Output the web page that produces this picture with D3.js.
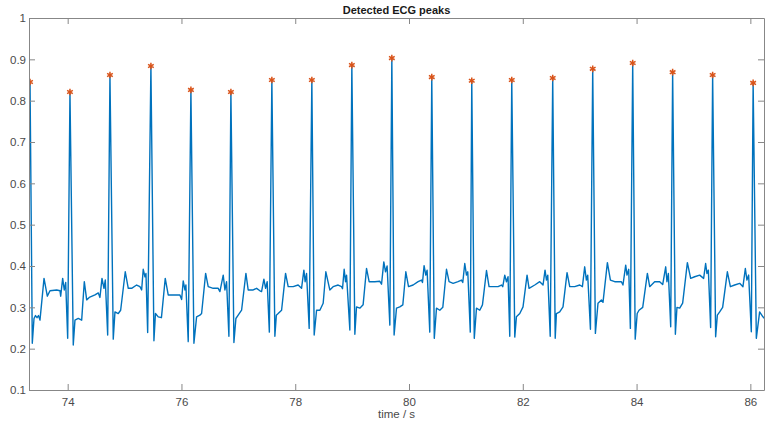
<!DOCTYPE html>
<html>
<head>
<meta charset="utf-8">
<script src="https://cdn.jsdelivr.net/npm/d3@7"></script>
<style>
  html, body { margin: 0; padding: 0; background: #fff; }
  svg { display: block; }
  .tick text { font-family: "Liberation Sans", Arial, Helvetica, sans-serif; }
</style>
</head>
<body>
<svg id="chart" width="765" height="425"></svg>
<script>
// ---------- data ----------
const titleText = "Detected ECG peaks";
const xLabelText = "time / s";
const xDomain = [73.32, 86.24];
const yDomain = [0.1, 1.0];
const xTicks = [74, 76, 78, 80, 82, 84, 86];
const yTicks = [0.1, 0.2, 0.3, 0.4, 0.5, 0.6, 0.7, 0.8, 0.9, 1.0];

// detected R-peaks
const peakTime = [73.338, 74.040, 74.743, 75.463, 76.166, 76.869, 77.589, 78.292, 78.995, 79.698,
                  80.400, 81.103, 81.806, 82.526, 83.229, 83.932, 84.634, 85.337, 86.049];
const peakValue = [0.845, 0.821, 0.862, 0.884, 0.826, 0.821, 0.850, 0.850, 0.886, 0.903,
                   0.857, 0.848, 0.850, 0.855, 0.877, 0.891, 0.869, 0.862, 0.843];

// ECG trace samples (time in s, amplitude)
const ecgTime = [
  73.294, 73.338, 73.378, 73.408, 73.434, 73.461, 73.487, 73.513, 73.584, 73.642, 73.689, 73.807, 73.865, 73.877, 73.912, 73.940, 73.965,
  74.000, 74.040, 74.098, 74.128, 74.186, 74.246, 74.292, 74.334, 74.379, 74.480, 74.538, 74.567, 74.603, 74.638, 74.661,
  74.703, 74.743, 74.801, 74.831, 74.889, 74.931, 75.012, 75.065, 75.124, 75.212, 75.270, 75.300, 75.328, 75.358, 75.376,
  75.406, 75.463, 75.516, 75.543, 75.592, 75.648, 75.715, 75.767, 75.855, 75.973, 76.003, 76.031, 76.061, 76.078,
  76.119, 76.166, 76.219, 76.266, 76.324, 76.354, 76.425, 76.470, 76.558, 76.646, 76.676, 76.734, 76.764, 76.793,
  76.834, 76.869, 76.922, 76.957, 76.997, 77.057, 77.133, 77.173, 77.261, 77.321, 77.379, 77.408, 77.449, 77.479, 77.507,
  77.545, 77.589, 77.642, 77.668, 77.700, 77.760, 77.830, 77.876, 77.964, 78.051, 78.111, 78.152, 78.174, 78.199,
  78.245, 78.292, 78.333, 78.375, 78.433, 78.491, 78.538, 78.608, 78.666, 78.754, 78.814, 78.831, 78.860, 78.884, 78.902,
  78.960, 78.995, 79.048, 79.077, 79.135, 79.193, 79.253, 79.299, 79.399, 79.487, 79.517, 79.557, 79.587, 79.615,
  79.663, 79.698, 79.738, 79.780, 79.838, 79.891, 79.944, 79.991, 80.072, 80.160, 80.219, 80.237, 80.265, 80.295, 80.318,
  80.365, 80.400, 80.444, 80.483, 80.541, 80.594, 80.659, 80.704, 80.775, 80.862, 80.922, 80.945, 80.980, 81.010, 81.033,
  81.077, 81.103, 81.147, 81.186, 81.244, 81.291, 81.362, 81.407, 81.477, 81.565, 81.625, 81.648, 81.683, 81.713, 81.741,
  81.771, 81.806, 81.859, 81.888, 81.947, 82.004, 82.075, 82.110, 82.210, 82.298, 82.356, 82.391, 82.416, 82.439,
  82.482, 82.526, 82.570, 82.591, 82.649, 82.707, 82.778, 82.825, 82.913, 83.001, 83.048, 83.088, 83.118, 83.141,
  83.189, 83.229, 83.276, 83.322, 83.382, 83.410, 83.487, 83.540, 83.616, 83.733, 83.761, 83.809, 83.832, 83.862,
  83.891, 83.932, 83.976, 84.011, 84.043, 84.108, 84.190, 84.231, 84.318, 84.406, 84.459, 84.512, 84.534, 84.559,
  84.600, 84.634, 84.682, 84.710, 84.758, 84.810, 84.893, 84.951, 85.021, 85.109, 85.179, 85.214, 85.237, 85.262,
  85.302, 85.337, 85.390, 85.420, 85.461, 85.513, 85.596, 85.649, 85.724, 85.812, 85.870, 85.912, 85.940, 85.970,
  86.017, 86.049, 86.105, 86.163, 86.221, 86.268
];
const ecgValue = [
  0.240, 0.845, 0.213, 0.273, 0.280, 0.275, 0.280, 0.269, 0.370, 0.327, 0.340, 0.342, 0.340, 0.327, 0.370, 0.342, 0.360,
  0.225, 0.821, 0.209, 0.269, 0.273, 0.269, 0.362, 0.318, 0.324, 0.330, 0.335, 0.324, 0.370, 0.346, 0.366,
  0.233, 0.862, 0.223, 0.289, 0.285, 0.293, 0.386, 0.346, 0.346, 0.354, 0.350, 0.342, 0.392, 0.374, 0.382,
  0.239, 0.884, 0.219, 0.285, 0.277, 0.275, 0.370, 0.330, 0.330, 0.330, 0.319, 0.364, 0.342, 0.354,
  0.217, 0.826, 0.213, 0.277, 0.281, 0.285, 0.382, 0.350, 0.346, 0.346, 0.338, 0.378, 0.342, 0.362,
  0.230, 0.821, 0.215, 0.273, 0.281, 0.293, 0.382, 0.342, 0.342, 0.346, 0.340, 0.338, 0.368, 0.346, 0.362,
  0.240, 0.850, 0.230, 0.281, 0.285, 0.293, 0.382, 0.350, 0.350, 0.354, 0.346, 0.390, 0.362, 0.382,
  0.249, 0.850, 0.233, 0.293, 0.293, 0.310, 0.386, 0.342, 0.350, 0.354, 0.350, 0.345, 0.392, 0.362, 0.378,
  0.245, 0.886, 0.235, 0.301, 0.298, 0.306, 0.394, 0.362, 0.362, 0.363, 0.356, 0.410, 0.386, 0.400,
  0.257, 0.903, 0.233, 0.298, 0.301, 0.306, 0.386, 0.350, 0.354, 0.362, 0.366, 0.360, 0.401, 0.378, 0.390,
  0.240, 0.857, 0.225, 0.298, 0.293, 0.300, 0.392, 0.362, 0.358, 0.362, 0.366, 0.360, 0.406, 0.378, 0.386,
  0.240, 0.848, 0.225, 0.298, 0.293, 0.306, 0.389, 0.350, 0.350, 0.350, 0.354, 0.350, 0.378, 0.362, 0.374,
  0.230, 0.850, 0.228, 0.277, 0.285, 0.301, 0.378, 0.346, 0.354, 0.362, 0.354, 0.390, 0.366, 0.378,
  0.230, 0.855, 0.225, 0.285, 0.289, 0.301, 0.384, 0.350, 0.350, 0.354, 0.350, 0.398, 0.366, 0.378,
  0.247, 0.877, 0.237, 0.310, 0.318, 0.312, 0.408, 0.366, 0.362, 0.362, 0.354, 0.402, 0.378, 0.392,
  0.249, 0.891, 0.223, 0.285, 0.293, 0.300, 0.382, 0.350, 0.362, 0.362, 0.355, 0.398, 0.362, 0.382,
  0.253, 0.869, 0.235, 0.300, 0.298, 0.310, 0.408, 0.370, 0.374, 0.378, 0.370, 0.406, 0.382, 0.390,
  0.251, 0.862, 0.229, 0.281, 0.289, 0.300, 0.386, 0.350, 0.354, 0.358, 0.350, 0.394, 0.366, 0.378,
  0.241, 0.843, 0.225, 0.289, 0.277, 0.270
];

// ---------- layout ----------
const W = 765, H = 425;
const margin = { top: 18, right: 1, bottom: 35, left: 29 };
const iw = W - margin.left - margin.right;
const ih = H - margin.top - margin.bottom;

const axisColor = "#878787";
const textColor = "#4a4a4a";
const lineColor = "#0072BD";
const markerColor = "#D95319";
const font = '"Liberation Sans", Arial, Helvetica, sans-serif';

const svg = d3.select("#chart");
const g = svg.append("g").attr("transform", `translate(${margin.left},${margin.top})`);

const x = d3.scaleLinear().domain(xDomain).range([0, iw]);
const y = d3.scaleLinear().domain(yDomain).range([ih, 0]);

svg.append("defs").append("clipPath").attr("id", "plotclip")
  .append("rect").attr("x", 0).attr("y", 0).attr("width", iw).attr("height", ih);

// trace
const ecg = ecgTime.map((t, i) => [t, ecgValue[i]]);
g.append("path")
  .datum(ecg)
  .attr("clip-path", "url(#plotclip)")
  .attr("fill", "none")
  .attr("stroke", lineColor)
  .attr("stroke-width", 1.4)
  .attr("stroke-linejoin", "round")
  .attr("d", d3.line().x(d => x(d[0])).y(d => y(d[1])));

// peak markers
const star = d3.symbol().type(d3.symbolAsterisk).size(30);
g.append("g").attr("clip-path", "url(#plotclip)")
  .selectAll("path.peak")
  .data(peakTime.map((t, i) => [t, peakValue[i]]))
  .join("path")
  .attr("class", "peak")
  .attr("transform", d => `translate(${x(d[0])},${y(d[1])})`)
  .attr("d", star)
  .attr("fill", "none")
  .attr("stroke", markerColor)
  .attr("stroke-width", 1.5);

// axes (inward ticks, box)
function styleAxis(sel, showText) {
  sel.select(".domain").attr("stroke", axisColor).attr("stroke-width", 1);
  sel.selectAll(".tick line").attr("stroke", axisColor).attr("stroke-width", 1);
  sel.selectAll(".tick text")
    .attr("fill", textColor)
    .style("font-family", font)
    .style("font-size", "11.5px")
    .style("display", showText ? null : "none");
}
const fmtY = d => d3.format("")(+d.toFixed(1));

g.append("g").attr("transform", `translate(0,${ih})`)
  .call(d3.axisBottom(x).tickValues(xTicks).tickSizeInner(-6).tickSizeOuter(0).tickPadding(8))
  .call(s => styleAxis(s, true));
g.append("g")
  .call(d3.axisTop(x).tickValues(xTicks).tickSizeInner(-6).tickSizeOuter(0))
  .call(s => styleAxis(s, false));
g.append("g")
  .call(d3.axisLeft(y).tickValues(yTicks).tickFormat(fmtY).tickSizeInner(-6).tickSizeOuter(0).tickPadding(3))
  .call(s => styleAxis(s, true));
g.append("g").attr("transform", `translate(${iw},0)`)
  .call(d3.axisRight(y).tickValues(yTicks).tickSizeInner(-6).tickSizeOuter(0))
  .call(s => styleAxis(s, false));

// title
svg.append("text")
  .attr("x", margin.left + iw / 2)
  .attr("y", 13.5)
  .attr("text-anchor", "middle")
  .attr("fill", "#1a1a1a")
  .style("font-family", font)
  .style("font-size", "11px")
  .style("font-weight", "bold")
  .text(titleText);

// x label
svg.append("text")
  .attr("x", margin.left + iw / 2)
  .attr("y", 418)
  .attr("text-anchor", "middle")
  .attr("fill", textColor)
  .style("font-family", font)
  .style("font-size", "11.5px")
  .text(xLabelText);
</script>
</body>
</html>
